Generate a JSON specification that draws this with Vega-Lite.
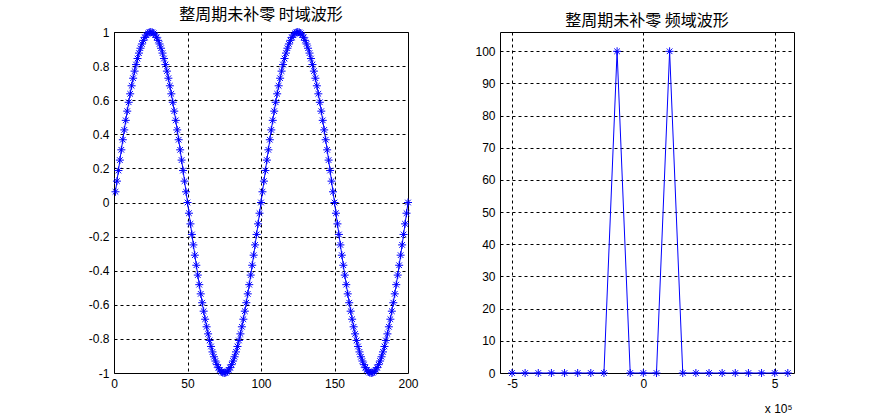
{
  "$schema": "https://vega.github.io/schema/vega-lite/v6.json",
  "autosize": {"type": "pad"},
  "padding": {"left": 87, "top": 6, "right": 0, "bottom": 0},
  "background": "white",
  "spacing": 92,
  "bounds": "flush",
  "datasets": {
    "time": [
      {"n":1,"v":0.0628},{"n":2,"v":0.1253},{"n":3,"v":0.1874},{"n":4,"v":0.2487},{"n":5,"v":0.309},{"n":6,"v":0.3681},{"n":7,"v":0.4258},{"n":8,"v":0.4818},{"n":9,"v":0.5358},{"n":10,"v":0.5878},
      {"n":11,"v":0.6374},{"n":12,"v":0.6845},{"n":13,"v":0.729},{"n":14,"v":0.7705},{"n":15,"v":0.809},{"n":16,"v":0.8443},{"n":17,"v":0.8763},{"n":18,"v":0.9048},{"n":19,"v":0.9298},{"n":20,"v":0.9511},
      {"n":21,"v":0.9686},{"n":22,"v":0.9823},{"n":23,"v":0.9921},{"n":24,"v":0.998},{"n":25,"v":1},{"n":26,"v":0.998},{"n":27,"v":0.9921},{"n":28,"v":0.9823},{"n":29,"v":0.9686},{"n":30,"v":0.9511},
      {"n":31,"v":0.9298},{"n":32,"v":0.9048},{"n":33,"v":0.8763},{"n":34,"v":0.8443},{"n":35,"v":0.809},{"n":36,"v":0.7705},{"n":37,"v":0.729},{"n":38,"v":0.6845},{"n":39,"v":0.6374},{"n":40,"v":0.5878},
      {"n":41,"v":0.5358},{"n":42,"v":0.4818},{"n":43,"v":0.4258},{"n":44,"v":0.3681},{"n":45,"v":0.309},{"n":46,"v":0.2487},{"n":47,"v":0.1874},{"n":48,"v":0.1253},{"n":49,"v":0.0628},{"n":50,"v":0},
      {"n":51,"v":-0.0628},{"n":52,"v":-0.1253},{"n":53,"v":-0.1874},{"n":54,"v":-0.2487},{"n":55,"v":-0.309},{"n":56,"v":-0.3681},{"n":57,"v":-0.4258},{"n":58,"v":-0.4818},{"n":59,"v":-0.5358},{"n":60,"v":-0.5878},
      {"n":61,"v":-0.6374},{"n":62,"v":-0.6845},{"n":63,"v":-0.729},{"n":64,"v":-0.7705},{"n":65,"v":-0.809},{"n":66,"v":-0.8443},{"n":67,"v":-0.8763},{"n":68,"v":-0.9048},{"n":69,"v":-0.9298},{"n":70,"v":-0.9511},
      {"n":71,"v":-0.9686},{"n":72,"v":-0.9823},{"n":73,"v":-0.9921},{"n":74,"v":-0.998},{"n":75,"v":-1},{"n":76,"v":-0.998},{"n":77,"v":-0.9921},{"n":78,"v":-0.9823},{"n":79,"v":-0.9686},{"n":80,"v":-0.9511},
      {"n":81,"v":-0.9298},{"n":82,"v":-0.9048},{"n":83,"v":-0.8763},{"n":84,"v":-0.8443},{"n":85,"v":-0.809},{"n":86,"v":-0.7705},{"n":87,"v":-0.729},{"n":88,"v":-0.6845},{"n":89,"v":-0.6374},{"n":90,"v":-0.5878},
      {"n":91,"v":-0.5358},{"n":92,"v":-0.4818},{"n":93,"v":-0.4258},{"n":94,"v":-0.3681},{"n":95,"v":-0.309},{"n":96,"v":-0.2487},{"n":97,"v":-0.1874},{"n":98,"v":-0.1253},{"n":99,"v":-0.0628},{"n":100,"v":0},
      {"n":101,"v":0.0628},{"n":102,"v":0.1253},{"n":103,"v":0.1874},{"n":104,"v":0.2487},{"n":105,"v":0.309},{"n":106,"v":0.3681},{"n":107,"v":0.4258},{"n":108,"v":0.4818},{"n":109,"v":0.5358},{"n":110,"v":0.5878},
      {"n":111,"v":0.6374},{"n":112,"v":0.6845},{"n":113,"v":0.729},{"n":114,"v":0.7705},{"n":115,"v":0.809},{"n":116,"v":0.8443},{"n":117,"v":0.8763},{"n":118,"v":0.9048},{"n":119,"v":0.9298},{"n":120,"v":0.9511},
      {"n":121,"v":0.9686},{"n":122,"v":0.9823},{"n":123,"v":0.9921},{"n":124,"v":0.998},{"n":125,"v":1},{"n":126,"v":0.998},{"n":127,"v":0.9921},{"n":128,"v":0.9823},{"n":129,"v":0.9686},{"n":130,"v":0.9511},
      {"n":131,"v":0.9298},{"n":132,"v":0.9048},{"n":133,"v":0.8763},{"n":134,"v":0.8443},{"n":135,"v":0.809},{"n":136,"v":0.7705},{"n":137,"v":0.729},{"n":138,"v":0.6845},{"n":139,"v":0.6374},{"n":140,"v":0.5878},
      {"n":141,"v":0.5358},{"n":142,"v":0.4818},{"n":143,"v":0.4258},{"n":144,"v":0.3681},{"n":145,"v":0.309},{"n":146,"v":0.2487},{"n":147,"v":0.1874},{"n":148,"v":0.1253},{"n":149,"v":0.0628},{"n":150,"v":0},
      {"n":151,"v":-0.0628},{"n":152,"v":-0.1253},{"n":153,"v":-0.1874},{"n":154,"v":-0.2487},{"n":155,"v":-0.309},{"n":156,"v":-0.3681},{"n":157,"v":-0.4258},{"n":158,"v":-0.4818},{"n":159,"v":-0.5358},{"n":160,"v":-0.5878},
      {"n":161,"v":-0.6374},{"n":162,"v":-0.6845},{"n":163,"v":-0.729},{"n":164,"v":-0.7705},{"n":165,"v":-0.809},{"n":166,"v":-0.8443},{"n":167,"v":-0.8763},{"n":168,"v":-0.9048},{"n":169,"v":-0.9298},{"n":170,"v":-0.9511},
      {"n":171,"v":-0.9686},{"n":172,"v":-0.9823},{"n":173,"v":-0.9921},{"n":174,"v":-0.998},{"n":175,"v":-1},{"n":176,"v":-0.998},{"n":177,"v":-0.9921},{"n":178,"v":-0.9823},{"n":179,"v":-0.9686},{"n":180,"v":-0.9511},
      {"n":181,"v":-0.9298},{"n":182,"v":-0.9048},{"n":183,"v":-0.8763},{"n":184,"v":-0.8443},{"n":185,"v":-0.809},{"n":186,"v":-0.7705},{"n":187,"v":-0.729},{"n":188,"v":-0.6845},{"n":189,"v":-0.6374},{"n":190,"v":-0.5878},
      {"n":191,"v":-0.5358},{"n":192,"v":-0.4818},{"n":193,"v":-0.4258},{"n":194,"v":-0.3681},{"n":195,"v":-0.309},{"n":196,"v":-0.2487},{"n":197,"v":-0.1874},{"n":198,"v":-0.1253},{"n":199,"v":-0.0628},{"n":200,"v":0}
    ],
    "freq": [
      {"f":-5,"a":0},{"f":-4.5,"a":0},{"f":-4,"a":0},{"f":-3.5,"a":0},{"f":-3,"a":0},{"f":-2.5,"a":0},{"f":-2,"a":0},{"f":-1.5,"a":0},
      {"f":-1,"a":100},{"f":-0.5,"a":0},{"f":0,"a":0},{"f":0.5,"a":0},{"f":1,"a":100},{"f":1.5,"a":0},{"f":2,"a":0},{"f":2.5,"a":0},
      {"f":3,"a":0},{"f":3.5,"a":0},{"f":4,"a":0},{"f":4.5,"a":0},{"f":5,"a":0},{"f":5.5,"a":0}
    ]
  },
  "hconcat": [
    {
      "width": 294,
      "height": 341,
      "title": {"text": "整周期未补零 时域波形"},
      "data": {"name": "time"},
      "encoding": {
        "x": {"field": "n", "type": "quantitative", "scale": {"domain": [0, 200], "nice": false, "zero": false},
              "axis": {"values": [0, 50, 100, 150, 200]}},
        "y": {"field": "v", "type": "quantitative", "scale": {"domain": [-1, 1], "nice": false, "zero": false},
              "axis": {"values": [-1, -0.8, -0.6, -0.4, -0.2, 0, 0.2, 0.4, 0.6, 0.8, 1]}}
      },
      "layer": [
        {"mark": {"type": "line", "color": "#0000ff", "strokeWidth": 1}},
        {"mark": {"type": "point", "shape": "M-1,0L1,0M0,-1L0,1M-0.7,-0.7L0.7,0.7M-0.7,0.7L0.7,-0.7", "size": 64, "filled": false, "stroke": "#0000ff", "strokeWidth": 1, "opacity": 1}}
      ]
    },
    {
      "width": 294,
      "height": 341,
      "title": {"text": "整周期未补零 频域波形"},
      "data": {"name": "freq"},
      "encoding": {
        "x": {"field": "f", "type": "quantitative", "scale": {"domain": [-5.457, 5.735], "nice": false, "zero": false},
              "axis": {"values": [-5, 0, 5], "title": "x 10⁵", "titleAnchor": "end", "titleAlign": "right", "titleX": 292, "titleY": 39, "titleBaseline": "alphabetic", "titleFont": "Liberation Sans", "titleFontSize": 12, "titleFontWeight": "normal", "titleColor": "black"}},
        "y": {"field": "a", "type": "quantitative", "scale": {"domain": [0, 106], "nice": false, "zero": false},
              "axis": {"values": [0, 10, 20, 30, 40, 50, 60, 70, 80, 90, 100]}}
      },
      "layer": [
        {"mark": {"type": "line", "color": "#0000ff", "strokeWidth": 1}},
        {"mark": {"type": "point", "shape": "M-1,0L1,0M0,-1L0,1M-0.7,-0.7L0.7,0.7M-0.7,0.7L0.7,-0.7", "size": 64, "filled": false, "stroke": "#0000ff", "strokeWidth": 1, "opacity": 1}}
      ]
    }
  ],
  "config": {
    "view": {"stroke": "black", "strokeWidth": 1},
    "axis": {
      "grid": true, "gridColor": "black", "gridDash": [3, 3], "gridOpacity": 1, "gridWidth": 1,
      "domain": false, "ticks": false, "title": null,
      "labelFont": "Liberation Sans", "labelFontSize": 12, "labelColor": "black", "labelPadding": 5,
      "labelExpr": "datum.value + ''", "labelFlush": false, "labelOverlap": false
    },
    "title": {"font": "Noto Sans CJK SC", "fontSize": 16, "fontWeight": "normal", "color": "black", "offset": 3, "anchor": "middle"}
  }
}
